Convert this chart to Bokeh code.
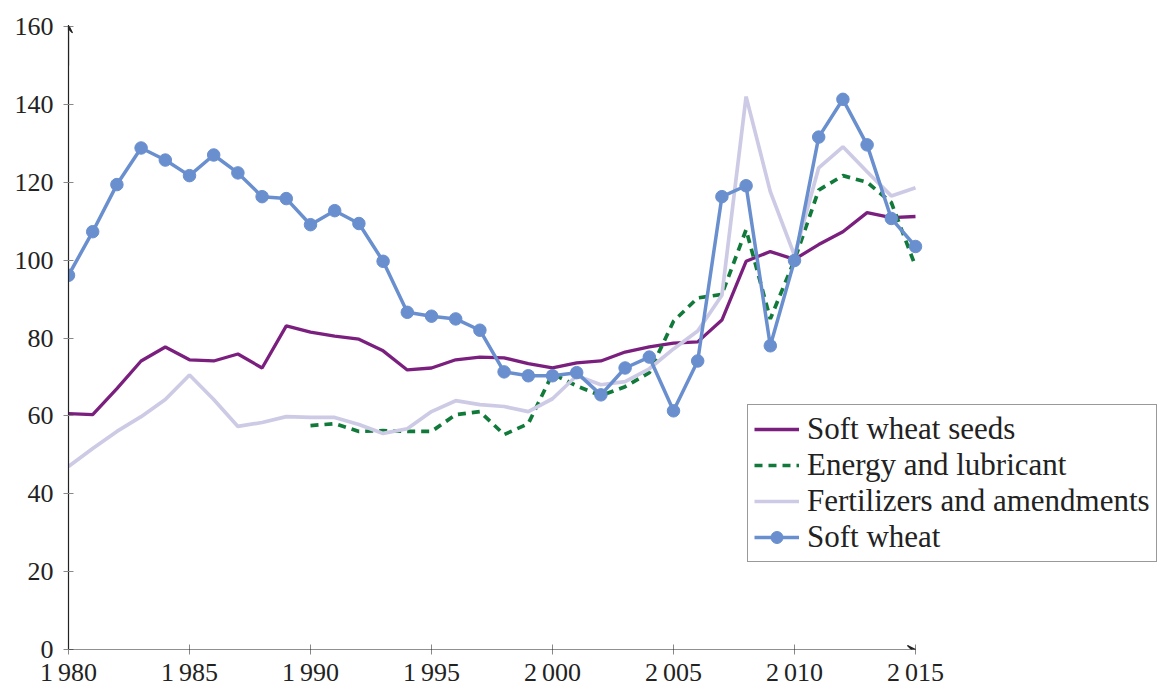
from bokeh.plotting import figure
from bokeh.models import Range1d, Arrow, VeeHead, Legend, LegendItem, FixedTicker
from bokeh.embed import file_html
from bokeh.resources import INLINE

years = list(range(1980, 2016))
soft_wheat_seeds = [60.6, 60.3, 67.0, 74.1, 77.7, 74.4, 74.1, 75.9, 72.3, 83.1,
                    81.5, 80.5, 79.7, 76.7, 71.8, 72.3, 74.4, 75.1, 74.9, 73.4,
                    72.3, 73.6, 74.1, 76.4, 77.7, 78.7, 79.0, 84.6, 99.7, 102.2,
                    100.2, 104.0, 107.3, 112.2, 110.9, 111.2]
energy_years = list(range(1990, 2016))
energy_lubricant = [57.5, 58.0, 56.0, 56.2, 56.0, 56.0, 60.3, 61.1, 55.2, 58.0,
                    70.8, 67.7, 65.2, 67.5, 71.1, 84.3, 90.3, 91.2, 107.8, 84.9,
                    100.0, 118.0, 121.7, 120.0, 114.8, 98.4]
fertilizers = [47.0, 51.6, 56.0, 59.8, 64.2, 70.5, 64.2, 57.3, 58.3, 59.8,
               59.6, 59.6, 57.8, 55.5, 56.7, 61.1, 63.9, 62.9, 62.4, 61.1,
               64.4, 70.3, 68.0, 68.8, 72.1, 77.2, 81.8, 91.0, 142.0, 117.6,
               101.2, 123.7, 129.1, 122.7, 116.5, 118.6]
soft_wheat = [96.1, 107.3, 119.4, 128.8, 125.7, 121.7, 127.0, 122.4, 116.3, 115.8,
              109.1, 112.7, 109.4, 99.7, 86.6, 85.6, 84.9, 82.0, 71.3, 70.3,
              70.3, 71.1, 65.4, 72.3, 75.1, 61.3, 74.1, 116.3, 119.1, 78.0,
              99.9, 131.6, 141.3, 129.6, 110.7, 103.5]

x_ticks = [1980, 1985, 1990, 1995, 2000, 2005, 2010, 2015]
y_ticks = [0, 20, 40, 60, 80, 100, 120, 140, 160]
labels = ["Soft wheat seeds", "Energy and lubricant", "Fertilizers and amendments", "Soft wheat"]

PURPLE = "#7b1f7f"
GREEN = "#117a3a"
LAVENDER = "#cdcae6"
BLUE = "#6a8fcf"
FONT = "Liberation Serif"
AXIS = "#222222"

W, H = 1162, 689
LEFT, RIGHT, TOP, BOTTOM = 68, 0, 26, 37
frame_w = W - LEFT - RIGHT
x_end = 1980 + 35 * frame_w / 847.0  # axis drawn only to 2015; extra room holds the legend

p = figure(width=W, height=H, output_backend="svg", toolbar_location=None,
           x_range=Range1d(1980, x_end), y_range=Range1d(0, 160),
           min_border_left=LEFT, min_border_right=RIGHT, min_border_top=TOP,
           min_border_bottom=BOTTOM)
p.outline_line_color = None
p.xgrid.visible = False
p.ygrid.visible = False
p.background_fill_color = "white"

r1 = p.line(years, soft_wheat_seeds, line_color=PURPLE, line_width=3.3)
r2 = p.line(energy_years, energy_lubricant, line_color=GREEN, line_width=3.7, line_dash="8 6")
r3 = p.line(years, fertilizers, line_color=LAVENDER, line_width=3.7)
r4 = p.line(years, soft_wheat, line_color=BLUE, line_width=3.5)
r4m = p.scatter(years, soft_wheat, size=12.5, fill_color=BLUE, line_color=BLUE)

for ax in (p.xaxis[0], p.yaxis[0]):
    ax.axis_line_color = AXIS
    ax.axis_line_width = 1.2
    ax.major_tick_line_color = "#888888"
    ax.major_tick_in = 5
    ax.major_tick_out = 5
    ax.minor_tick_line_color = None
    ax.major_label_text_font = FONT
    ax.major_label_text_font_size = "26px"
    ax.major_label_text_color = AXIS

p.xaxis[0].axis_line_color = None
p.xaxis[0].ticker = FixedTicker(ticks=x_ticks)
p.yaxis[0].ticker = FixedTicker(ticks=y_ticks)
p.xaxis[0].major_label_overrides = {t: str(t)[0] + "\u2009" + str(t)[1:] for t in x_ticks}
p.xaxis[0].major_label_standoff = 3
p.yaxis[0].major_label_standoff = 10

p.add_layout(Arrow(end=VeeHead(size=8, line_color=AXIS, line_width=1.2, fill_color=AXIS),
                   x_start=1980, y_start=150, x_end=1980, y_end=160.4,
                   line_color=AXIS, line_width=1.2))
p.add_layout(Arrow(end=VeeHead(size=8, line_color=AXIS, line_width=1.2, fill_color=AXIS),
                   x_start=1980, y_start=0, x_end=2015, y_end=0,
                   line_color=AXIS, line_width=1.2))

legend = Legend(items=[
    LegendItem(label=labels[0], renderers=[r1]),
    LegendItem(label=labels[1], renderers=[r2]),
    LegendItem(label=labels[2], renderers=[r3]),
    LegendItem(label=labels[3], renderers=[r4, r4m]),
], location=(679, 87))
legend.label_text_font = FONT
legend.label_text_font_size = "31px"
legend.label_text_color = AXIS
legend.glyph_width = 45
legend.glyph_height = 30
legend.label_standoff = 8
legend.spacing = 0
legend.padding = 6
legend.margin = 0
legend.border_line_color = "#333333"
legend.border_line_width = 1.2
legend.background_fill_alpha = 1.0
p.add_layout(legend, "center")

open("out.html", "w").write(file_html(p, INLINE))
